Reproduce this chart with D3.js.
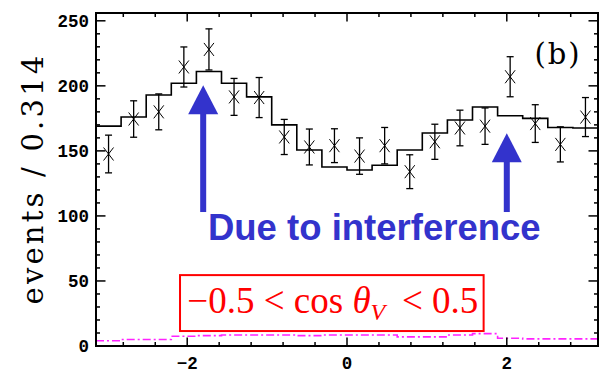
<!DOCTYPE html>
<html>
<head>
<meta charset="utf-8">
<script src="https://cdn.jsdelivr.net/npm/d3@7"></script>
<style>
  html, body { margin: 0; padding: 0; background: #fff; }
  svg { display: block; }
</style>
</head>
<body>
<svg id="chart" width="605" height="376"></svg>
<script>
// ---- data ----
const nBins = 20;
const binWidth = 0.314;
const dataValues = [147.6, 174.5, 180, 214.5, 228, 191.5, 191, 160.7, 153, 154,
                    146, 154, 134, 157, 167.6, 169, 207, 171, 155, 176];
const dataErrors = [14.5, 14, 13.8, 15.4, 15.8, 14.2, 15.4, 13.5, 13.8, 13,
                    14, 14, 13, 13.5, 13.7, 14, 15.4, 14.5, 13.5, 15];
const fitValues = [169, 176, 193, 202, 211, 202, 191.5, 170, 150.7, 137.6,
                   135.3, 139, 150.7, 163.7, 173.7, 183.7, 177, 175, 168, 167.6];
const bkgValues = [4, 5, 5, 7.5, 8, 8.5, 8.5, 8.5, 8, 8.5,
                   8.5, 8.5, 7, 7, 8.5, 9.5, 6, 5.5, 5.5, 5.5];
const xTickValues = [-2, 0, 2];
const xTickLabels = ["\u22122", "0", "2"];
const yTickValues = [0, 50, 100, 150, 200, 250];
const yTickLabels = ["0", "50", "100", "150", "200", "250"];
const yLabel = "events / 0.314";
const panelLabel = "(b)";
const annotText = "Due to interference";
const arrowXs = [-1.8, 2.0];
const arrowTips = [200.5, 163.6];

// ---- layout ----
const svg = d3.select("#chart");
const L = 96, R = 598, T = 13, B = 346;
const x = d3.scaleLinear().domain([-Math.PI, Math.PI]).range([L, R]);
const y = d3.scaleLinear().domain([0, 256]).range([B, T]);
const xLo = -Math.PI;
const binEdge = i => xLo + i * (2 * Math.PI / nBins);
const binCenter = i => xLo + (i + 0.5) * (2 * Math.PI / nBins);

// ---- histogram step lines ----
function stepPath(vals) {
  const pts = [];
  vals.forEach((v, i) => {
    pts.push([x(binEdge(i)), y(v)]);
    pts.push([x(binEdge(i + 1)), y(v)]);
  });
  return d3.line()(pts);
}

// background (magenta dash-dot)
svg.append("path")
  .attr("d", stepPath(bkgValues))
  .attr("fill", "none")
  .attr("stroke", "#ff22ff")
  .attr("stroke-width", 1.6)
  .attr("stroke-dasharray", "8,3,2,3");

// fit histogram
svg.append("path")
  .attr("d", stepPath(fitValues))
  .attr("fill", "none")
  .attr("stroke", "#000")
  .attr("stroke-width", 1.6);

// data points with error bars
const pts = svg.append("g").attr("stroke", "#000").attr("stroke-width", 1.3);
dataValues.forEach((v, i) => {
  const cx = x(binCenter(i)), cy = y(v);
  const e = dataErrors[i];
  const y1 = y(v + e), y2 = y(v - e);
  pts.append("line").attr("x1", cx).attr("x2", cx).attr("y1", y1).attr("y2", y2);
  pts.append("line").attr("x1", cx - 3.5).attr("x2", cx + 3.5).attr("y1", y1).attr("y2", y1);
  pts.append("line").attr("x1", cx - 3.5).attr("x2", cx + 3.5).attr("y1", y2).attr("y2", y2);
  pts.append("line").attr("x1", cx - 5).attr("x2", cx + 5).attr("y1", cy - 6.5).attr("y2", cy + 6.5).attr("stroke-width", 1);
  pts.append("line").attr("x1", cx - 5).attr("x2", cx + 5).attr("y1", cy + 6.5).attr("y2", cy - 6.5).attr("stroke-width", 1);
});

// ---- frame & ticks ----
const frame = svg.append("g").attr("stroke", "#000");
frame.append("rect").attr("x", L).attr("y", T).attr("width", R - L).attr("height", B - T)
  .attr("fill", "none").attr("stroke-width", 2);

const xMinor = d3.range(-2.8, 2.81, 0.4).map(v => Math.round(v * 10) / 10);
xMinor.forEach(v => {
  const major = xTickValues.includes(v);
  const len = major ? 8.5 : 4;
  frame.append("line").attr("x1", x(v)).attr("x2", x(v)).attr("y1", B).attr("y2", B - len).attr("stroke-width", 1.5);
  frame.append("line").attr("x1", x(v)).attr("x2", x(v)).attr("y1", T).attr("y2", T + len).attr("stroke-width", 1.5);
});
const yMinor = d3.range(0, 251, 10);
yMinor.forEach(v => {
  const major = v % 50 === 0;
  const len = major ? 9.5 : 4;
  frame.append("line").attr("x1", L).attr("x2", L + len).attr("y1", y(v)).attr("y2", y(v)).attr("stroke-width", 1.5);
  frame.append("line").attr("x1", R).attr("x2", R - len).attr("y1", y(v)).attr("y2", y(v)).attr("stroke-width", 1.5);
});

// tick labels
const tickFont = "'Liberation Mono', 'DejaVu Sans Mono', monospace";
yTickValues.forEach((v, i) => {
  svg.append("text").attr("x", 89).attr("y", y(v)).attr("dy", "0.36em")
    .attr("text-anchor", "end").attr("font-family", tickFont).attr("font-size", 17.5)
    .attr("font-weight", "bold").attr("fill", "#000")
    .text(yTickLabels[i]);
});
xTickValues.forEach((v, i) => {
  svg.append("text").attr("x", x(v)).attr("y", 369)
    .attr("text-anchor", "middle").attr("font-family", tickFont).attr("font-size", 17.5)
    .attr("font-weight", "bold").attr("fill", "#000")
    .text(xTickLabels[i]);
});

// axis title
svg.append("text")
  .attr("transform", `translate(43, ${(52 + 305) / 2}) rotate(-90)`)
  .attr("text-anchor", "middle")
  .attr("font-family", "'DejaVu Serif', serif")
  .attr("font-size", 29)
  .attr("letter-spacing", 3.2)
  .attr("fill", "#000")
  .text(yLabel);

// panel label
svg.append("text")
  .attr("x", 558).attr("y", 64)
  .attr("text-anchor", "middle")
  .attr("font-family", "'DejaVu Serif', serif")
  .attr("font-size", 29)
  .attr("letter-spacing", 2)
  .attr("fill", "#000")
  .text(panelLabel);

// ---- annotations ----
const blue = "#3333cc";
arrowXs.forEach((ax, i) => {
  const cx = x(ax), tip = y(arrowTips[i]), bottom = y(103);
  svg.append("rect").attr("x", cx - 3).attr("y", tip + 26).attr("width", 6).attr("height", bottom - tip - 26).attr("fill", blue);
  svg.append("path")
    .attr("d", `M${cx},${tip} L${cx + 15},${tip + 29} L${cx - 15},${tip + 29} Z`)
    .attr("fill", blue);
});
svg.append("text")
  .attr("x", x(-1.74)).attr("y", y(81.4))
  .attr("font-family", "'Liberation Sans', Arial, sans-serif")
  .attr("font-weight", "bold")
  .attr("font-size", 36.5)
  .attr("fill", blue)
  .text(annotText);

// red box with condition
const red = "#ff0000";
svg.append("rect")
  .attr("x", x(-2.09)).attr("y", y(54.5))
  .attr("width", x(1.71) - x(-2.09)).attr("height", y(11.5) - y(54.5))
  .attr("fill", "#fff").attr("stroke", red).attr("stroke-width", 2);
const mt = svg.append("text")
  .attr("x", (x(-2.09) + x(1.71)) / 2 + 1).attr("y", y(25.3))
  .attr("text-anchor", "middle")
  .attr("font-family", "'Liberation Serif', 'Times New Roman', serif")
  .attr("font-size", 37)
  .attr("fill", red);
mt.append("tspan").text("\u22120.5 < cos ");
mt.append("tspan").attr("font-style", "italic").text("\u03b8");
mt.append("tspan").attr("font-style", "italic").attr("font-size", 24).attr("dy", 7).text("V");
mt.append("tspan").attr("dy", -7).text("\u2009 < 0.5");
</script>
</body>
</html>
